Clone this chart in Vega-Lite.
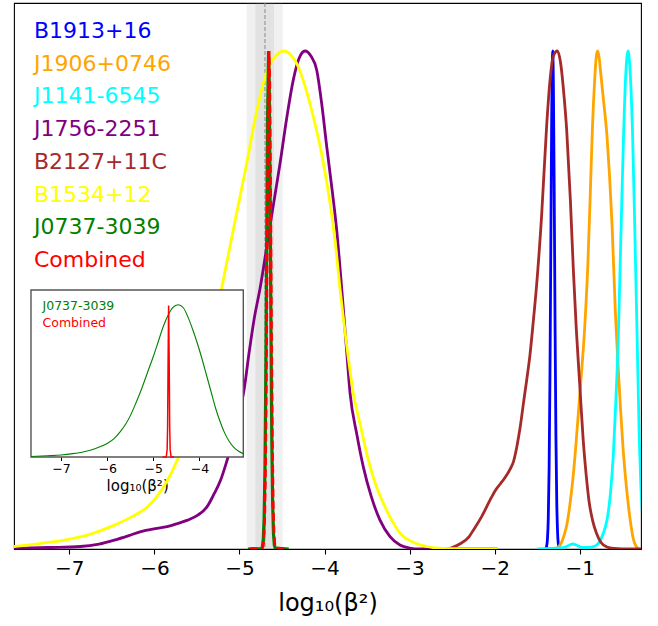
{
 "$schema": "https://vega.github.io/schema/vega-lite/v6.json",
 "width": 627,
 "height": 546,
 "autosize": {"type": "none"},
 "padding": {"left": 14, "top": 3, "right": 17, "bottom": 77},
 "background": "white",
 "config": {
  "font": "DejaVu Sans",
  "view": {"stroke": "#000", "strokeWidth": 1.1},
  "axis": {"grid": false, "domain": false, "labelColor": "#000", "tickColor": "#000", "titleColor": "#000", "titleFontWeight": "normal", "labelFlush": false, "format": "d"}
 },
 "datasets": {
  "bands": [
   {"level": "2sigma", "lo": -4.914, "hi": -4.491, "center": -4.70},
   {"level": "1sigma", "lo": -4.813, "hi": -4.594, "center": -4.70}
  ],
  "curves": [
   {"pulsar": "B1913+16", "v": -1.40, "p": 0.001},
   {"pulsar": "B1913+16", "v": -1.39, "p": 0.005},
   {"pulsar": "B1913+16", "v": -1.38, "p": 0.019},
   {"pulsar": "B1913+16", "v": -1.37, "p": 0.061},
   {"pulsar": "B1913+16", "v": -1.36, "p": 0.162},
   {"pulsar": "B1913+16", "v": -1.35, "p": 0.347},
   {"pulsar": "B1913+16", "v": -1.34, "p": 0.607},
   {"pulsar": "B1913+16", "v": -1.33, "p": 0.862},
   {"pulsar": "B1913+16", "v": -1.318, "p": 1.0},
   {"pulsar": "B1913+16", "v": -1.31, "p": 0.936},
   {"pulsar": "B1913+16", "v": -1.30, "p": 0.716},
   {"pulsar": "B1913+16", "v": -1.29, "p": 0.445},
   {"pulsar": "B1913+16", "v": -1.28, "p": 0.225},
   {"pulsar": "B1913+16", "v": -1.27, "p": 0.093},
   {"pulsar": "B1913+16", "v": -1.26, "p": 0.031},
   {"pulsar": "B1913+16", "v": -1.25, "p": 0.008},
   {"pulsar": "B1913+16", "v": -1.24, "p": 0.002},

   {"pulsar": "J1906+0746", "v": -1.30, "p": 0.0},
   {"pulsar": "J1906+0746", "v": -1.25, "p": 0.004},
   {"pulsar": "J1906+0746", "v": -1.19, "p": 0.024},
   {"pulsar": "J1906+0746", "v": -1.15, "p": 0.05},
   {"pulsar": "J1906+0746", "v": -1.115, "p": 0.09},
   {"pulsar": "J1906+0746", "v": -1.075, "p": 0.15},
   {"pulsar": "J1906+0746", "v": -1.04, "p": 0.22},
   {"pulsar": "J1906+0746", "v": -0.99, "p": 0.33},
   {"pulsar": "J1906+0746", "v": -0.94, "p": 0.45},
   {"pulsar": "J1906+0746", "v": -0.905, "p": 0.57},
   {"pulsar": "J1906+0746", "v": -0.875, "p": 0.72},
   {"pulsar": "J1906+0746", "v": -0.85, "p": 0.85},
   {"pulsar": "J1906+0746", "v": -0.825, "p": 0.94},
   {"pulsar": "J1906+0746", "v": -0.805, "p": 0.99},
   {"pulsar": "J1906+0746", "v": -0.791, "p": 1.0},
   {"pulsar": "J1906+0746", "v": -0.775, "p": 0.99},
   {"pulsar": "J1906+0746", "v": -0.75, "p": 0.95},
   {"pulsar": "J1906+0746", "v": -0.72, "p": 0.9},
   {"pulsar": "J1906+0746", "v": -0.68, "p": 0.83},
   {"pulsar": "J1906+0746", "v": -0.65, "p": 0.75},
   {"pulsar": "J1906+0746", "v": -0.62, "p": 0.65},
   {"pulsar": "J1906+0746", "v": -0.58, "p": 0.47},
   {"pulsar": "J1906+0746", "v": -0.55, "p": 0.37},
   {"pulsar": "J1906+0746", "v": -0.52, "p": 0.28},
   {"pulsar": "J1906+0746", "v": -0.49, "p": 0.2},
   {"pulsar": "J1906+0746", "v": -0.46, "p": 0.14},
   {"pulsar": "J1906+0746", "v": -0.43, "p": 0.09},
   {"pulsar": "J1906+0746", "v": -0.40, "p": 0.05},
   {"pulsar": "J1906+0746", "v": -0.37, "p": 0.02},
   {"pulsar": "J1906+0746", "v": -0.34, "p": 0.006},
   {"pulsar": "J1906+0746", "v": -0.31, "p": 0.001},
   {"pulsar": "J1906+0746", "v": -0.28, "p": 0.0},

   {"pulsar": "J1141-6545", "v": -1.50, "p": 0.0},
   {"pulsar": "J1141-6545", "v": -1.35, "p": 0.001},
   {"pulsar": "J1141-6545", "v": -1.25, "p": 0.002},
   {"pulsar": "J1141-6545", "v": -1.17, "p": 0.004},
   {"pulsar": "J1141-6545", "v": -1.12, "p": 0.008},
   {"pulsar": "J1141-6545", "v": -1.08, "p": 0.01},
   {"pulsar": "J1141-6545", "v": -1.04, "p": 0.008},
   {"pulsar": "J1141-6545", "v": -0.99, "p": 0.004},
   {"pulsar": "J1141-6545", "v": -0.93, "p": 0.003},
   {"pulsar": "J1141-6545", "v": -0.86, "p": 0.004},
   {"pulsar": "J1141-6545", "v": -0.80, "p": 0.008},
   {"pulsar": "J1141-6545", "v": -0.76, "p": 0.017},
   {"pulsar": "J1141-6545", "v": -0.72, "p": 0.033},
   {"pulsar": "J1141-6545", "v": -0.68, "p": 0.058},
   {"pulsar": "J1141-6545", "v": -0.64, "p": 0.11},
   {"pulsar": "J1141-6545", "v": -0.605, "p": 0.19},
   {"pulsar": "J1141-6545", "v": -0.575, "p": 0.3},
   {"pulsar": "J1141-6545", "v": -0.546, "p": 0.43},
   {"pulsar": "J1141-6545", "v": -0.525, "p": 0.57},
   {"pulsar": "J1141-6545", "v": -0.507, "p": 0.69},
   {"pulsar": "J1141-6545", "v": -0.485, "p": 0.83},
   {"pulsar": "J1141-6545", "v": -0.46, "p": 0.95},
   {"pulsar": "J1141-6545", "v": -0.432, "p": 1.0},
   {"pulsar": "J1141-6545", "v": -0.405, "p": 0.95},
   {"pulsar": "J1141-6545", "v": -0.38, "p": 0.84},
   {"pulsar": "J1141-6545", "v": -0.35, "p": 0.62},
   {"pulsar": "J1141-6545", "v": -0.325, "p": 0.42},
   {"pulsar": "J1141-6545", "v": -0.30, "p": 0.22},
   {"pulsar": "J1141-6545", "v": -0.28, "p": 0.12},
   {"pulsar": "J1141-6545", "v": -0.26, "p": 0.06},
   {"pulsar": "J1141-6545", "v": -0.24, "p": 0.02},

   {"pulsar": "J1756-2251", "v": -7.70, "p": 0.001},
   {"pulsar": "J1756-2251", "v": -7.25, "p": 0.003},
   {"pulsar": "J1756-2251", "v": -6.87, "p": 0.005},
   {"pulsar": "J1756-2251", "v": -6.65, "p": 0.01},
   {"pulsar": "J1756-2251", "v": -6.47, "p": 0.018},
   {"pulsar": "J1756-2251", "v": -6.30, "p": 0.027},
   {"pulsar": "J1756-2251", "v": -6.16, "p": 0.035},
   {"pulsar": "J1756-2251", "v": -5.99, "p": 0.041},
   {"pulsar": "J1756-2251", "v": -5.85, "p": 0.045},
   {"pulsar": "J1756-2251", "v": -5.73, "p": 0.051},
   {"pulsar": "J1756-2251", "v": -5.61, "p": 0.058},
   {"pulsar": "J1756-2251", "v": -5.49, "p": 0.068},
   {"pulsar": "J1756-2251", "v": -5.38, "p": 0.085},
   {"pulsar": "J1756-2251", "v": -5.30, "p": 0.11},
   {"pulsar": "J1756-2251", "v": -5.22, "p": 0.139},
   {"pulsar": "J1756-2251", "v": -5.16, "p": 0.17},
   {"pulsar": "J1756-2251", "v": -5.10, "p": 0.205},
   {"pulsar": "J1756-2251", "v": -5.02, "p": 0.26},
   {"pulsar": "J1756-2251", "v": -4.946, "p": 0.319},
   {"pulsar": "J1756-2251", "v": -4.89, "p": 0.39},
   {"pulsar": "J1756-2251", "v": -4.829, "p": 0.46},
   {"pulsar": "J1756-2251", "v": -4.758, "p": 0.523},
   {"pulsar": "J1756-2251", "v": -4.64, "p": 0.65},
   {"pulsar": "J1756-2251", "v": -4.523, "p": 0.774},
   {"pulsar": "J1756-2251", "v": -4.44, "p": 0.87},
   {"pulsar": "J1756-2251", "v": -4.367, "p": 0.942},
   {"pulsar": "J1756-2251", "v": -4.30, "p": 0.985},
   {"pulsar": "J1756-2251", "v": -4.229, "p": 1.0},
   {"pulsar": "J1756-2251", "v": -4.16, "p": 0.99},
   {"pulsar": "J1756-2251", "v": -4.092, "p": 0.962},
   {"pulsar": "J1756-2251", "v": -4.03, "p": 0.89},
   {"pulsar": "J1756-2251", "v": -3.974, "p": 0.808},
   {"pulsar": "J1756-2251", "v": -3.91, "p": 0.72},
   {"pulsar": "J1756-2251", "v": -3.857, "p": 0.641},
   {"pulsar": "J1756-2251", "v": -3.798, "p": 0.523},
   {"pulsar": "J1756-2251", "v": -3.75, "p": 0.42},
   {"pulsar": "J1756-2251", "v": -3.70, "p": 0.313},
   {"pulsar": "J1756-2251", "v": -3.62, "p": 0.23},
   {"pulsar": "J1756-2251", "v": -3.544, "p": 0.165},
   {"pulsar": "J1756-2251", "v": -3.45, "p": 0.105},
   {"pulsar": "J1756-2251", "v": -3.348, "p": 0.058},
   {"pulsar": "J1756-2251", "v": -3.23, "p": 0.025},
   {"pulsar": "J1756-2251", "v": -3.113, "p": 0.008},
   {"pulsar": "J1756-2251", "v": -3.0, "p": 0.002},
   {"pulsar": "J1756-2251", "v": -2.88, "p": 0.0},
   {"pulsar": "J1756-2251", "v": -1.97, "p": 0.0},

   {"pulsar": "B2127+11C", "v": -2.70, "p": 0.0},
   {"pulsar": "B2127+11C", "v": -2.55, "p": 0.001},
   {"pulsar": "B2127+11C", "v": -2.50, "p": 0.003},
   {"pulsar": "B2127+11C", "v": -2.40, "p": 0.011},
   {"pulsar": "B2127+11C", "v": -2.30, "p": 0.025},
   {"pulsar": "B2127+11C", "v": -2.25, "p": 0.038},
   {"pulsar": "B2127+11C", "v": -2.15, "p": 0.066},
   {"pulsar": "B2127+11C", "v": -2.055, "p": 0.098},
   {"pulsar": "B2127+11C", "v": -1.99, "p": 0.118},
   {"pulsar": "B2127+11C", "v": -1.937, "p": 0.13},
   {"pulsar": "B2127+11C", "v": -1.88, "p": 0.143},
   {"pulsar": "B2127+11C", "v": -1.82, "p": 0.16},
   {"pulsar": "B2127+11C", "v": -1.78, "p": 0.175},
   {"pulsar": "B2127+11C", "v": -1.74, "p": 0.205},
   {"pulsar": "B2127+11C", "v": -1.70, "p": 0.245},
   {"pulsar": "B2127+11C", "v": -1.66, "p": 0.295},
   {"pulsar": "B2127+11C", "v": -1.623, "p": 0.34},
   {"pulsar": "B2127+11C", "v": -1.585, "p": 0.39},
   {"pulsar": "B2127+11C", "v": -1.55, "p": 0.45},
   {"pulsar": "B2127+11C", "v": -1.507, "p": 0.53},
   {"pulsar": "B2127+11C", "v": -1.448, "p": 0.67},
   {"pulsar": "B2127+11C", "v": -1.389, "p": 0.85},
   {"pulsar": "B2127+11C", "v": -1.35, "p": 0.94},
   {"pulsar": "B2127+11C", "v": -1.31, "p": 0.99},
   {"pulsar": "B2127+11C", "v": -1.264, "p": 1.0},
   {"pulsar": "B2127+11C", "v": -1.22, "p": 0.97},
   {"pulsar": "B2127+11C", "v": -1.19, "p": 0.92},
   {"pulsar": "B2127+11C", "v": -1.153, "p": 0.84},
   {"pulsar": "B2127+11C", "v": -1.11, "p": 0.70},
   {"pulsar": "B2127+11C", "v": -1.075, "p": 0.56},
   {"pulsar": "B2127+11C", "v": -1.04, "p": 0.44},
   {"pulsar": "B2127+11C", "v": -1.0, "p": 0.33},
   {"pulsar": "B2127+11C", "v": -0.96, "p": 0.22},
   {"pulsar": "B2127+11C", "v": -0.925, "p": 0.15},
   {"pulsar": "B2127+11C", "v": -0.89, "p": 0.095},
   {"pulsar": "B2127+11C", "v": -0.85, "p": 0.058},
   {"pulsar": "B2127+11C", "v": -0.80, "p": 0.03},
   {"pulsar": "B2127+11C", "v": -0.75, "p": 0.013},
   {"pulsar": "B2127+11C", "v": -0.68, "p": 0.004},
   {"pulsar": "B2127+11C", "v": -0.60, "p": 0.001},
   {"pulsar": "B2127+11C", "v": -0.50, "p": 0.0},
   {"pulsar": "B2127+11C", "v": -0.28, "p": 0.0},

   {"pulsar": "B1534+12", "v": -7.70, "p": 0.004},
   {"pulsar": "B1534+12", "v": -7.65, "p": 0.005},
   {"pulsar": "B1534+12", "v": -7.35, "p": 0.011},
   {"pulsar": "B1534+12", "v": -7.06, "p": 0.018},
   {"pulsar": "B1534+12", "v": -6.75, "p": 0.03},
   {"pulsar": "B1534+12", "v": -6.47, "p": 0.048},
   {"pulsar": "B1534+12", "v": -6.25, "p": 0.066},
   {"pulsar": "B1534+12", "v": -6.08, "p": 0.085},
   {"pulsar": "B1534+12", "v": -5.89, "p": 0.125},
   {"pulsar": "B1534+12", "v": -5.73, "p": 0.179},
   {"pulsar": "B1534+12", "v": -5.60, "p": 0.24},
   {"pulsar": "B1534+12", "v": -5.45, "p": 0.33},
   {"pulsar": "B1534+12", "v": -5.32, "p": 0.43},
   {"pulsar": "B1534+12", "v": -5.19, "p": 0.54},
   {"pulsar": "B1534+12", "v": -5.05, "p": 0.66},
   {"pulsar": "B1534+12", "v": -4.915, "p": 0.774},
   {"pulsar": "B1534+12", "v": -4.82, "p": 0.86},
   {"pulsar": "B1534+12", "v": -4.72, "p": 0.935},
   {"pulsar": "B1534+12", "v": -4.60, "p": 0.985},
   {"pulsar": "B1534+12", "v": -4.473, "p": 1.0},
   {"pulsar": "B1534+12", "v": -4.40, "p": 0.993},
   {"pulsar": "B1534+12", "v": -4.327, "p": 0.975},
   {"pulsar": "B1534+12", "v": -4.23, "p": 0.93},
   {"pulsar": "B1534+12", "v": -4.132, "p": 0.868},
   {"pulsar": "B1534+12", "v": -4.03, "p": 0.79},
   {"pulsar": "B1534+12", "v": -3.935, "p": 0.694},
   {"pulsar": "B1534+12", "v": -3.87, "p": 0.61},
   {"pulsar": "B1534+12", "v": -3.818, "p": 0.523},
   {"pulsar": "B1534+12", "v": -3.74, "p": 0.41},
   {"pulsar": "B1534+12", "v": -3.662, "p": 0.313},
   {"pulsar": "B1534+12", "v": -3.58, "p": 0.25},
   {"pulsar": "B1534+12", "v": -3.504, "p": 0.192},
   {"pulsar": "B1534+12", "v": -3.41, "p": 0.135},
   {"pulsar": "B1534+12", "v": -3.309, "p": 0.092},
   {"pulsar": "B1534+12", "v": -3.21, "p": 0.058},
   {"pulsar": "B1534+12", "v": -3.113, "p": 0.032},
   {"pulsar": "B1534+12", "v": -2.95, "p": 0.013},
   {"pulsar": "B1534+12", "v": -2.80, "p": 0.005},
   {"pulsar": "B1534+12", "v": -2.60, "p": 0.001},
   {"pulsar": "B1534+12", "v": -2.40, "p": 0.0},
   {"pulsar": "B1534+12", "v": -1.97, "p": 0.0},

   {"pulsar": "J0737-3039", "v": -4.90, "p": 0.0},
   {"pulsar": "J0737-3039", "v": -4.74, "p": 0.001},
   {"pulsar": "J0737-3039", "v": -4.73, "p": 0.005},
   {"pulsar": "J0737-3039", "v": -4.72, "p": 0.019},
   {"pulsar": "J0737-3039", "v": -4.71, "p": 0.061},
   {"pulsar": "J0737-3039", "v": -4.70, "p": 0.162},
   {"pulsar": "J0737-3039", "v": -4.69, "p": 0.347},
   {"pulsar": "J0737-3039", "v": -4.68, "p": 0.607},
   {"pulsar": "J0737-3039", "v": -4.67, "p": 0.862},
   {"pulsar": "J0737-3039", "v": -4.658, "p": 1.0},
   {"pulsar": "J0737-3039", "v": -4.65, "p": 0.936},
   {"pulsar": "J0737-3039", "v": -4.64, "p": 0.716},
   {"pulsar": "J0737-3039", "v": -4.63, "p": 0.445},
   {"pulsar": "J0737-3039", "v": -4.62, "p": 0.225},
   {"pulsar": "J0737-3039", "v": -4.61, "p": 0.093},
   {"pulsar": "J0737-3039", "v": -4.60, "p": 0.031},
   {"pulsar": "J0737-3039", "v": -4.59, "p": 0.008},
   {"pulsar": "J0737-3039", "v": -4.58, "p": 0.002},
   {"pulsar": "J0737-3039", "v": -4.42, "p": 0.0},

   {"pulsar": "Combined", "v": -4.88, "p": 0.0},
   {"pulsar": "Combined", "v": -4.734, "p": 0.001},
   {"pulsar": "Combined", "v": -4.724, "p": 0.005},
   {"pulsar": "Combined", "v": -4.714, "p": 0.019},
   {"pulsar": "Combined", "v": -4.704, "p": 0.061},
   {"pulsar": "Combined", "v": -4.694, "p": 0.162},
   {"pulsar": "Combined", "v": -4.684, "p": 0.347},
   {"pulsar": "Combined", "v": -4.674, "p": 0.607},
   {"pulsar": "Combined", "v": -4.664, "p": 0.862},
   {"pulsar": "Combined", "v": -4.652, "p": 1.0},
   {"pulsar": "Combined", "v": -4.644, "p": 0.936},
   {"pulsar": "Combined", "v": -4.634, "p": 0.716},
   {"pulsar": "Combined", "v": -4.624, "p": 0.445},
   {"pulsar": "Combined", "v": -4.614, "p": 0.225},
   {"pulsar": "Combined", "v": -4.604, "p": 0.093},
   {"pulsar": "Combined", "v": -4.594, "p": 0.031},
   {"pulsar": "Combined", "v": -4.584, "p": 0.008},
   {"pulsar": "Combined", "v": -4.574, "p": 0.002},
   {"pulsar": "Combined", "v": -4.44, "p": 0.0}
  ],
  "inset": [
   {"series": "J0737-3039", "v": -7.65, "p": 0.003},
   {"series": "J0737-3039", "v": -7.30, "p": 0.008},
   {"series": "J0737-3039", "v": -7.00, "p": 0.013},
   {"series": "J0737-3039", "v": -6.75, "p": 0.022},
   {"series": "J0737-3039", "v": -6.50, "p": 0.035},
   {"series": "J0737-3039", "v": -6.25, "p": 0.056},
   {"series": "J0737-3039", "v": -6.00, "p": 0.088},
   {"series": "J0737-3039", "v": -5.85, "p": 0.12},
   {"series": "J0737-3039", "v": -5.72, "p": 0.165},
   {"series": "J0737-3039", "v": -5.60, "p": 0.215},
   {"series": "J0737-3039", "v": -5.50, "p": 0.27},
   {"series": "J0737-3039", "v": -5.37, "p": 0.36},
   {"series": "J0737-3039", "v": -5.25, "p": 0.45},
   {"series": "J0737-3039", "v": -5.12, "p": 0.56},
   {"series": "J0737-3039", "v": -5.00, "p": 0.66},
   {"series": "J0737-3039", "v": -4.89, "p": 0.76},
   {"series": "J0737-3039", "v": -4.78, "p": 0.86},
   {"series": "J0737-3039", "v": -4.68, "p": 0.93},
   {"series": "J0737-3039", "v": -4.58, "p": 0.98},
   {"series": "J0737-3039", "v": -4.46, "p": 1.0},
   {"series": "J0737-3039", "v": -4.35, "p": 0.98},
   {"series": "J0737-3039", "v": -4.25, "p": 0.92},
   {"series": "J0737-3039", "v": -4.15, "p": 0.84},
   {"series": "J0737-3039", "v": -4.05, "p": 0.75},
   {"series": "J0737-3039", "v": -3.95, "p": 0.65},
   {"series": "J0737-3039", "v": -3.85, "p": 0.54},
   {"series": "J0737-3039", "v": -3.75, "p": 0.43},
   {"series": "J0737-3039", "v": -3.65, "p": 0.32},
   {"series": "J0737-3039", "v": -3.55, "p": 0.23},
   {"series": "J0737-3039", "v": -3.45, "p": 0.155},
   {"series": "J0737-3039", "v": -3.35, "p": 0.1},
   {"series": "J0737-3039", "v": -3.25, "p": 0.062},
   {"series": "J0737-3039", "v": -3.15, "p": 0.038},
   {"series": "J0737-3039", "v": -3.05, "p": 0.022},
   {"series": "Combined", "v": -4.80, "p": 0.0},
   {"series": "Combined", "v": -4.72, "p": 0.0},
   {"series": "Combined", "v": -4.70, "p": 0.05},
   {"series": "Combined", "v": -4.69, "p": 0.2},
   {"series": "Combined", "v": -4.68, "p": 0.6},
   {"series": "Combined", "v": -4.668, "p": 0.995},
   {"series": "Combined", "v": -4.655, "p": 0.6},
   {"series": "Combined", "v": -4.645, "p": 0.2},
   {"series": "Combined", "v": -4.635, "p": 0.05},
   {"series": "Combined", "v": -4.615, "p": 0.0},
   {"series": "Combined", "v": -4.55, "p": 0.0}
  ]
 },
 "layer": [
  {
   "layer": [
    {
     "data": {"name": "bands"},
     "mark": {"type": "rect", "fill": "#808080", "opacity": 0.12},
     "encoding": {
      "x": {"field": "lo", "type": "quantitative", "scale": {"domain": [-7.65, -0.28], "nice": false, "zero": false},
            "axis": {"values": [-7, -6, -5, -4, -3, -2, -1], "title": "log₁₀(β²)", "titleFontSize": 24, "labelFontSize": 20, "tickSize": 5, "tickWidth": 1.1, "labelPadding": 4, "titlePadding": 13}},
      "x2": {"field": "hi"}
     }
    },
    {
     "data": {"name": "bands"},
     "transform": [{"filter": "datum.level == '1sigma'"}],
     "mark": {"type": "rule", "color": "#8a8a8a", "strokeDash": [4, 2], "strokeWidth": 1},
     "encoding": {"x": {"field": "center", "type": "quantitative"}}
    },
    {
     "data": {"name": "curves"},
     "transform": [{"filter": "datum.pulsar != 'J0737-3039' && datum.pulsar != 'Combined'"}],
     "mark": {"type": "line", "strokeWidth": 2.8, "clip": true, "interpolate": "monotone"},
     "encoding": {
      "x": {"field": "v", "type": "quantitative"},
      "y": {"field": "p", "type": "quantitative", "scale": {"domain": [0, 1.0964], "nice": false, "zero": true}, "axis": null},
      "color": {"field": "pulsar", "type": "nominal",
       "scale": {"domain": ["B1913+16", "J1906+0746", "J1141-6545", "J1756-2251", "B2127+11C", "B1534+12", "J0737-3039", "Combined"],
                 "range": ["#0000ff", "#ffa500", "#00ffff", "#800080", "#a52a2a", "#ffff00", "#008000", "#ff0000"]},
       "legend": {"title": null, "orient": "none", "legendX": -2, "legendY": 17, "padding": 0,
                  "symbolSize": 0, "symbolOpacity": 0, "symbolStrokeWidth": 0, "labelOffset": 0,
                  "labelFontSize": 22, "labelLimit": 400, "rowPadding": 10.7,
                  "labelColor": {"expr": "datum.label == 'B1913+16' ? '#0000ff' : datum.label == 'J1906+0746' ? '#ffa500' : datum.label == 'J1141-6545' ? '#00ffff' : datum.label == 'J1756-2251' ? '#800080' : datum.label == 'B2127+11C' ? '#a52a2a' : datum.label == 'B1534+12' ? '#ffff00' : datum.label == 'J0737-3039' ? '#008000' : '#ff0000'"}}
      }
     }
    },
    {
     "data": {"name": "curves"},
     "transform": [{"filter": "datum.pulsar == 'J0737-3039'"}],
     "mark": {"type": "line", "strokeWidth": 3.2, "clip": true},
     "encoding": {
      "x": {"field": "v", "type": "quantitative"},
      "y": {"field": "p", "type": "quantitative"},
      "color": {"field": "pulsar", "type": "nominal"}
     }
    },
    {
     "data": {"name": "curves"},
     "transform": [{"filter": "datum.pulsar == 'Combined'"}],
     "mark": {"type": "line", "strokeWidth": 2.8, "strokeDash": [8, 4], "clip": true},
     "encoding": {
      "x": {"field": "v", "type": "quantitative"},
      "y": {"field": "p", "type": "quantitative"},
      "color": {"field": "pulsar", "type": "nominal"}
     }
    }
   ]
  },
  {
   "layer": [
    {
     "data": {"values": [{}]},
     "mark": {"type": "rect", "fill": "white", "stroke": "#555555", "strokeWidth": 1.4},
     "encoding": {
      "x": {"datum": -7.65, "type": "quantitative",
            "scale": {"domain": [-7.65, -3.05], "range": [17, 229.3], "nice": false, "zero": false},
            "axis": {"orient": "bottom", "offset": -92, "values": [-7, -6, -5, -4], "title": "log₁₀(β²)", "titleFontSize": 15, "labelFontSize": 12.5, "tickSize": 3.5, "labelPadding": 2, "titlePadding": 3}},
      "x2": {"datum": -3.05},
      "y": {"datum": 0, "type": "quantitative", "scale": {"domain": [0, 1.0964], "range": [454, 287], "nice": false, "zero": true}, "axis": null},
      "y2": {"datum": 1.0964}
     }
    },
    {
     "data": {"name": "inset"},
     "transform": [{"filter": "datum.series == 'J0737-3039'"}],
     "mark": {"type": "line", "strokeWidth": 1.1, "interpolate": "monotone"},
     "encoding": {
      "x": {"field": "v", "type": "quantitative"},
      "y": {"field": "p", "type": "quantitative"},
      "stroke": {"field": "series", "type": "nominal",
       "scale": {"domain": ["J0737-3039", "Combined"], "range": ["#008000", "#ff0000"]},
       "legend": {"title": null, "orient": "none", "legendX": 16, "legendY": 297, "padding": 0,
                  "symbolSize": 0, "symbolOpacity": 0, "symbolStrokeWidth": 0, "labelOffset": 0,
                  "labelFontSize": 12.5, "labelLimit": 300, "rowPadding": 4,
                  "labelColor": {"expr": "datum.label == 'J0737-3039' ? '#008000' : '#ff0000'"}}
      }
     }
    },
    {
     "data": {"name": "inset"},
     "transform": [{"filter": "datum.series == 'Combined'"}],
     "mark": {"type": "line", "strokeWidth": 1.5},
     "encoding": {
      "x": {"field": "v", "type": "quantitative"},
      "y": {"field": "p", "type": "quantitative"},
      "stroke": {"field": "series", "type": "nominal"}
     }
    }
   ]
  }
 ],
 "resolve": {"scale": {"x": "independent", "y": "independent"}}
}
